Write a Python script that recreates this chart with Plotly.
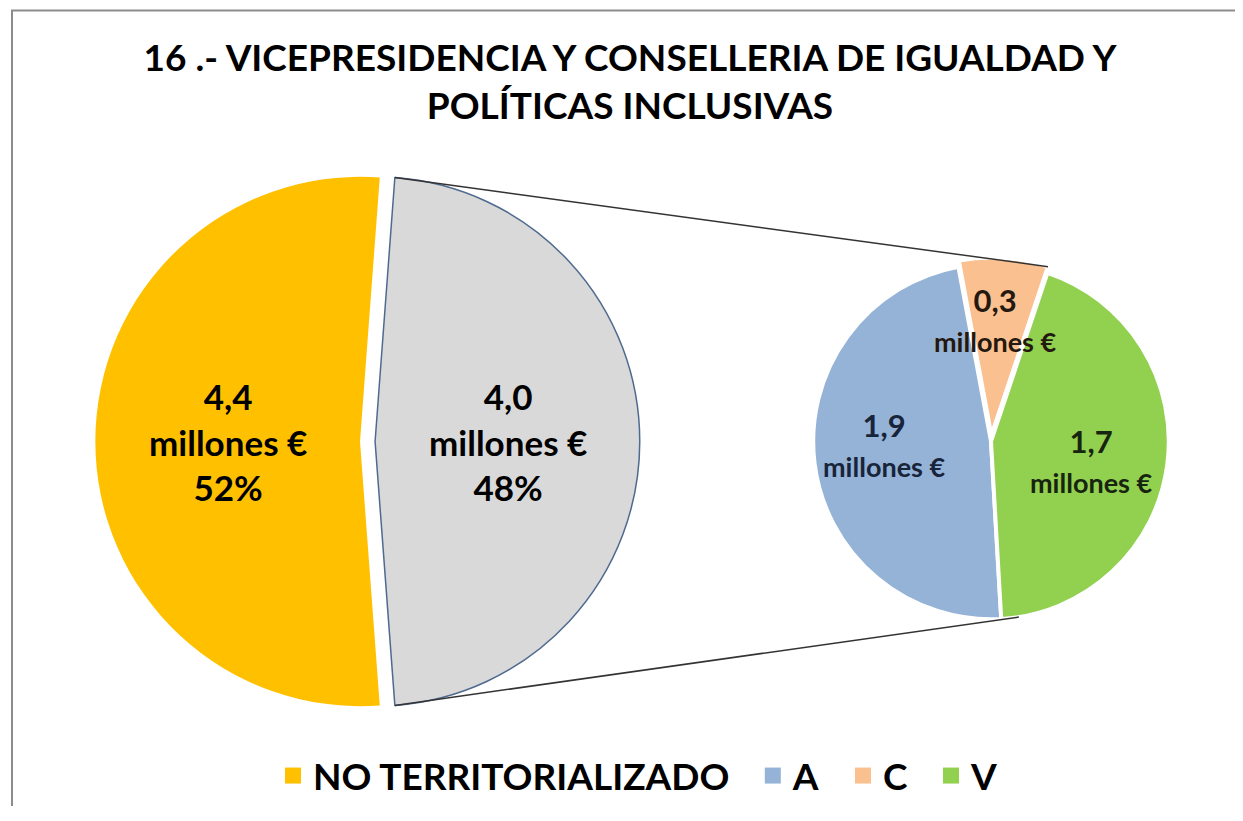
import math
import plotly.graph_objects as go

# ---------------- data ----------------
main_labels = ["NO TERRITORIALIZADO", "TERRITORIALIZADO"]
main_values = [4.4, 4.0]            # millones €
sub_labels = ["A", "C", "V"]
sub_values = [1.90, 0.32, 1.74]     # millones € (desglose del territorializado)

legend_labels = ["NO TERRITORIALIZADO", "A", "C", "V"]
title_text = "16 .- VICEPRESIDENCIA Y CONSELLERIA DE IGUALDAD Y<br>POLÍTICAS INCLUSIVAS"

# ---------------- style ----------------
PAGE_W, PAGE_H, OFF = 1243, 821, 8          # page body has an 8px margin
W, H = PAGE_W - 2 * OFF, PAGE_H - 2 * OFF - 6
FONT = "Lato, 'Open Sans', sans-serif"
main_colors = ["#FFC000", "#D9D9D9"]
sub_colors = ["#95B3D7", "#FAC090", "#92D050"]
sub_text_colors = ["#18243A", "#24180F", "#17240F"]
legend_colors = ["#FFC000", "#95B3D7", "#FAC090", "#92D050"]

P1_CX, P1_CY, P1_R, P1_PULL = 360, 442, 265, 0.057
P2_CX, P2_CY, P2_R, P2_PULL = 991, 442, 178, 0.035
P2_ROT = 176.7
LABEL_F1 = 0.5
LABEL2_POS = [(5.3, 0.60), (-2.4, 0.65), (3.2, 0.57)]   # (angle offset, radius fraction)
CONN_BOTTOM_DEG = 171
LEGEND_GAP = "\u2002"
FRAME_COLOR = "#8C8C8C"


def px(x):
    return (x - OFF) / W


def py(y):
    return 1 - (y - OFF) / H


def domain(cx, cy, r, pull):
    half = r * (1 + pull)
    return dict(x=[px(cx - half), px(cx + half)], y=[py(cy + half), py(cy - half)])


def polar(cx, cy, r, deg):
    a = math.radians(deg)
    return cx + r * math.sin(a), cy - r * math.cos(a)


def fmt(v):
    return f"{v:.1f}".replace(".", ",")


tot1 = sum(main_values)
g_span = 360 * main_values[1] / tot1
rot1 = 90 + g_span / 2

fig = go.Figure()

fig.add_trace(go.Pie(
    labels=main_labels, values=main_values, sort=False, direction="clockwise",
    rotation=rot1, pull=[0, P1_PULL], textinfo="none", hoverinfo="label+value+percent",
    marker=dict(colors=main_colors, line=dict(color=["rgba(0,0,0,0)", "#4F6A8F"], width=[0, 1.5])),
    domain=domain(P1_CX, P1_CY, P1_R, P1_PULL), showlegend=False,
))

tot2 = sum(sub_values)
fig.add_trace(go.Pie(
    labels=sub_labels, values=sub_values, sort=False, direction="clockwise",
    rotation=P2_ROT, pull=[0, P2_PULL, 0], textinfo="none", hoverinfo="label+value",
    marker=dict(colors=sub_colors, line=dict(color="white", width=4)),
    domain=domain(P2_CX, P2_CY, P2_R, P2_PULL), showlegend=False,
))

# legend entries
for i, (lab, col) in enumerate(zip(legend_labels, legend_colors)):
    name = lab + (LEGEND_GAP if i < len(legend_labels) - 1 else "")
    fig.add_trace(go.Scatter(x=[None], y=[None], mode="markers", name=name,
                             marker=dict(symbol="square", size=16, color=col),
                             showlegend=True, hoverinfo="skip"))

annotations = []
# labels main pie
angle = rot1
for i, (lab, v) in enumerate(zip(main_labels, main_values)):
    span = 360 * v / tot1
    mid = angle + span / 2
    pull = [0, P1_PULL][i]
    cx, cy = polar(P1_CX, P1_CY, pull * P1_R, mid)
    tx, ty = polar(cx, cy, LABEL_F1 * P1_R, mid)
    pct = round(100 * v / tot1)
    annotations.append(dict(
        x=px(tx), y=py(ty), xref="paper", yref="paper", showarrow=False,
        xanchor="center", yanchor="middle",
        text=f"{fmt(v)}<br>millones €<br>{pct}%", align="center",
        font=dict(family=FONT, size=35, color="#000000", weight="bold"),
    ))
    angle += span

# labels sub pie
angle = P2_ROT
pulls2 = [0, P2_PULL, 0]
corners = {}
for i, (lab, v) in enumerate(zip(sub_labels, sub_values)):
    span = 360 * v / tot2
    mid = angle + span / 2
    cx, cy = polar(P2_CX, P2_CY, pulls2[i] * P2_R, mid)
    d_ang, frac = LABEL2_POS[i]
    tx, ty = polar(cx, cy, frac * P2_R, mid + d_ang)
    annotations.append(dict(
        x=px(tx), y=py(ty), xref="paper", yref="paper", showarrow=False,
        xanchor="center", yanchor="middle",
        text=f"{fmt(v)}<br><span style='font-size:27px'>millones €</span>",
        align="center", font=dict(family=FONT, size=31, color=sub_text_colors[i], weight="bold"),
    ))
    corners[lab] = (cx, cy, angle, angle + span)
    angle += span

# connector lines
gcx, gcy = polar(P1_CX, P1_CY, P1_PULL * P1_R, 90)
top1 = polar(gcx, gcy, P1_R, 90 - g_span / 2)
bot1 = polar(gcx, gcy, P1_R, 90 + g_span / 2)
ccx, ccy, c0, c1 = corners["C"]
top2 = polar(ccx, ccy, P2_R, c1)
bot2 = polar(P2_CX, P2_CY, P2_R, CONN_BOTTOM_DEG)

shapes = [
    dict(type="line", xref="paper", yref="paper", x0=px(top1[0]), y0=py(top1[1]),
         x1=px(top2[0]), y1=py(top2[1]), line=dict(color="#333333", width=1.5)),
    dict(type="line", xref="paper", yref="paper", x0=px(bot1[0]), y0=py(bot1[1]),
         x1=px(bot2[0]), y1=py(bot2[1]), line=dict(color="#333333", width=1.5)),
    # chart frame: left and top edges
    dict(type="line", xref="paper", yref="paper", x0=px(12), y0=0, x1=px(12), y1=py(10),
         line=dict(color=FRAME_COLOR, width=2), layer="below"),
    dict(type="line", xref="paper", yref="paper", x0=px(11), y0=py(10.5), x1=1, y1=py(10.5),
         line=dict(color=FRAME_COLOR, width=2), layer="below"),
]

fig.update_layout(
    width=W, height=H, autosize=False,
    margin=dict(l=0, r=0, t=0, b=0),
    paper_bgcolor="white", plot_bgcolor="white",
    title=dict(text=title_text, x=px(630), xanchor="center", y=py(71), yanchor="top",
               font=dict(family=FONT, size=37, color="#000000", weight="bold")),
    xaxis=dict(visible=False), yaxis=dict(visible=False),
    legend=dict(orientation="h", x=px(638), xanchor="center", y=py(777), yanchor="middle",
                font=dict(family=FONT, size=37, color="#000000", weight="bold"),
                itemsizing="trace", bgcolor="rgba(0,0,0,0)", tracegroupgap=0),
    annotations=annotations, shapes=shapes,
)

fig.write_html("out.html")
